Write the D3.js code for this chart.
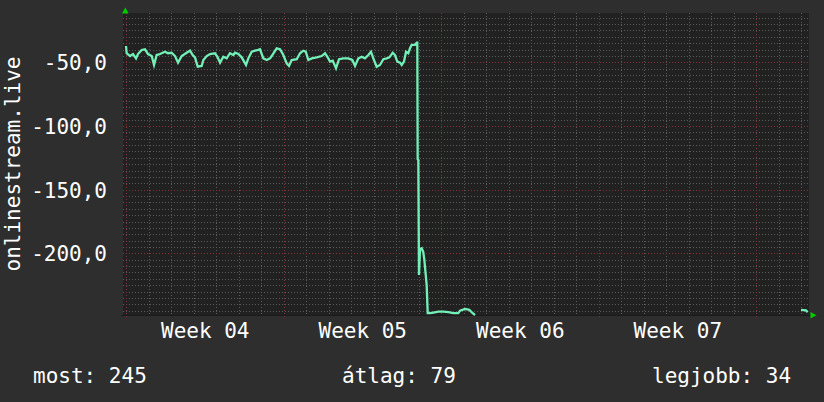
<!DOCTYPE html>
<html><head><meta charset="utf-8">
<script src="https://cdn.jsdelivr.net/npm/d3@7"></script>
<style>html,body{margin:0;padding:0;background:#2e2e2e;} svg{display:block;}</style>
</head><body><svg id="c" width="824" height="402"></svg>
<script>
// hours since start of Week 04 (Monday 00:00)
const hours = [0,0.7,4.3,7.5,10.7,12.8,16.7,20.3,23.5,27.4,29.9,32.7,36.3,41.6,44.8,48.7,52.3,55.5,59.4,64.7,68.3,71.1,73.6,76.5,80.7,82.5,86.1,89.6,94.9,97.8,100.3,103.8,107.4,110.9,114.5,116.3,119.8,123.4,128.0,130.5,134.1,137.6,141.1,142.9,146.5,150.1,153.6,155.4,160.7,164.3,167.8,171.4,173.9,176.7,182.1,185.6,189.1,191.7,194.5,198.1,203.4,208.7,212.3,215.1,217.6,220.5,224.0,227.2,231.8,237.1,241.4,244.3,247.8,251.4,254.9,258.5,261.3,263.8,267.4,270.9,274.5,278.1,280.9,284.5,286.9,289.4,292.3,294.1,296.5,298.7,301.1,302.9,304.7,308.3,310.1,310.7,311.1,311.8,312.5,313.6,315.4,317.1,318.2,320.7,321.8,324.3,327.8,333.1,338.5,343.8,349.1,354.4,356.3,361.6,366.2,369.8,372.3,500,720,725.3,727.1];
const values = [-37.2,-42.9,-45.1,-43.5,-46.9,-43.5,-40.3,-39.8,-43.5,-45.1,-52.1,-44.3,-43.5,-41.7,-42.9,-42.5,-45.1,-50.3,-45.1,-42.5,-40.9,-44.3,-46.1,-53.5,-52.9,-48.2,-45.1,-43.5,-42.9,-46.1,-50.3,-45.6,-46.9,-42.9,-44.3,-42.5,-43.5,-46.1,-52.1,-46.9,-41.7,-40.9,-40.3,-39.8,-46.9,-48.2,-46.9,-45.1,-39.0,-39.8,-44.3,-50.8,-52.9,-48.2,-47.6,-42.9,-40.9,-41.7,-48.2,-46.9,-46.1,-45.1,-42.9,-46.1,-49.5,-48.7,-54.7,-47.6,-46.9,-46.9,-48.2,-52.9,-46.9,-45.6,-46.9,-44.3,-41.7,-46.9,-53.5,-52.1,-47.6,-46.9,-46.1,-42.5,-44.3,-49.5,-50.3,-52.1,-49.5,-41.7,-42.9,-39.0,-36.4,-36.4,-34.6,-34.6,-126.1,-126.7,-217,-197,-196,-199,-205,-225,-247,-247,-246.5,-245.8,-245.8,-246.2,-247,-247,-245,-243.6,-244.4,-247,-248.4,null,-244.4,-244.8,-246.2];
const yTicks = [-200,-150,-100,-50];
const weekStarts = [0,168,336,504,672];
const weekLabels = ["Week 04","Week 05","Week 06","Week 07"];
const axisTitle = "onlinestream.live";
const legendItems = ["most: 245","átlag: 79","legjobb: 34"];

const svg = d3.select("#c");
const FONT = "'DejaVu Sans Mono', monospace";
const x = d3.scaleLinear().domain([0, 728.5]).range([126, 809]);
const y = d3.scaleLinear().domain([-248.4, -11.3]).range([315, 13]);
const loc = d3.formatLocale({decimal: ",", thousands: " ", grouping: [3], currency: ["", ""], minus: "-"});
const fmt = loc.format(".1f");

// canvas
svg.append("rect").attr("x", 0).attr("y", 0).attr("width", 824).attr("height", 402).attr("fill", "#2e2e2e");
svg.append("rect").attr("x", 123).attr("y", 13).attr("width", 686).attr("height", 302).attr("fill", "#212121");

const grid = svg.append("g").attr("shape-rendering", "crispEdges");
const MINOR = "#5a5a5a", MAJOR = "#803434", DASH = "1,2";
// minor horizontal
const minorY = d3.range(-245, -10, 5).filter(v => v % 50 !== 0);
grid.selectAll(".hmin").data(minorY).enter().append("line")
  .attr("x1", 123).attr("x2", 809)
  .attr("y1", d => Math.round(y(d)) + 0.5).attr("y2", d => Math.round(y(d)) + 0.5)
  .attr("stroke", MINOR).attr("stroke-dasharray", DASH);
// minor vertical
const minorX = d3.range(24, 728.5, 24).filter(h => h % 168 !== 0);
grid.selectAll(".vmin").data(minorX).enter().append("line")
  .attr("y1", 13).attr("y2", 315)
  .attr("x1", d => Math.round(x(d)) + 0.5).attr("x2", d => Math.round(x(d)) + 0.5)
  .attr("stroke", MINOR).attr("stroke-dasharray", DASH);
// major horizontal
grid.selectAll(".hmaj").data(yTicks).enter().append("line")
  .attr("x1", 123).attr("x2", 809)
  .attr("y1", d => Math.round(y(d)) + 0.5).attr("y2", d => Math.round(y(d)) + 0.5)
  .attr("stroke", MAJOR).attr("stroke-dasharray", DASH);
// major vertical
grid.selectAll(".vmaj").data(weekStarts).enter().append("line")
  .attr("y1", 13).attr("y2", 318)
  .attr("x1", d => Math.round(x(d)) + 0.5).attr("x2", d => Math.round(x(d)) + 0.5)
  .attr("stroke", MAJOR).attr("stroke-dasharray", DASH);
// x axis line
grid.append("line").attr("x1", 121).attr("x2", 812).attr("y1", 315.5).attr("y2", 315.5).attr("stroke", "#1a1a1a");

// data line
const pts = hours.map((h, i) => [h, values[i]]);
const line = d3.line().defined(d => d[1] != null).x(d => x(d[0])).y(d => y(d[1]));
svg.append("path").datum(pts).attr("d", line)
  .attr("fill", "none").attr("stroke", "#72f0b8").attr("stroke-width", 2.3).attr("stroke-linejoin", "miter");

// arrows
svg.append("path").attr("d", "M122,13.5L128.6,13.5L125.3,7.5Z").attr("fill", "#00cc00");
svg.append("path").attr("d", "M810.5,312L810.5,318.6L816.5,315.3Z").attr("fill", "#00cc00");

// y axis labels
const yAxis = d3.axisLeft(y).tickValues(yTicks).tickFormat(fmt).tickSize(0).tickPadding(0);
const gy = svg.append("g").attr("transform", "translate(107,0)").call(yAxis);
gy.select(".domain").remove();
gy.selectAll("text").attr("font-family", FONT).attr("font-size", 21).attr("fill", "#ffffff").attr("dy", "0.36em");

// x axis labels (centred mid-week)
const mids = weekLabels.map((_, i) => weekStarts[i] + 84);
const xAxis = d3.axisBottom(x).tickValues(mids).tickFormat((d, i) => weekLabels[i]).tickSize(0).tickPadding(0);
const gx = svg.append("g").attr("transform", "translate(0,338)").call(xAxis);
gx.select(".domain").remove();
gx.selectAll("text").attr("font-family", FONT).attr("font-size", 21).attr("fill", "#ffffff").attr("dy", 0);

// axis title
svg.append("text").attr("transform", "translate(20,164) rotate(-90)")
  .attr("text-anchor", "middle").attr("font-family", FONT).attr("font-size", 21).attr("fill", "#ffffff")
  .text(axisTitle);

// legend
const legX = [33, 342, 652];
svg.selectAll(".leg").data(legendItems).enter().append("text")
  .attr("x", (d, i) => legX[i]).attr("y", 383)
  .attr("font-family", FONT).attr("font-size", 21).attr("fill", "#ffffff")
  .text(d => d);
</script></body></html>
